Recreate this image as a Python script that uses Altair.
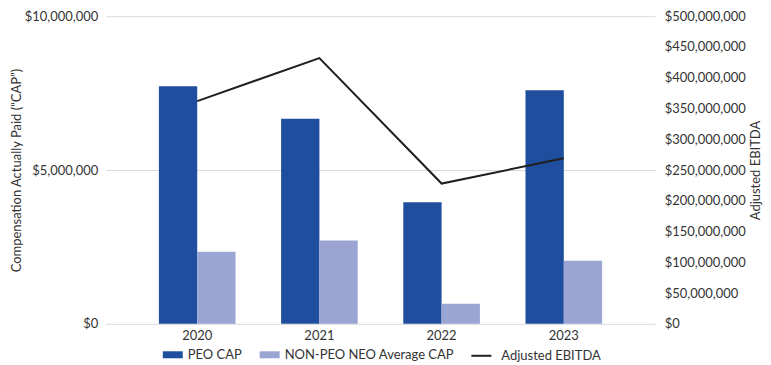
import altair as alt
import pandas as pd

years = ["2020", "2021", "2022", "2023"]
peo_cap = [7720000, 6670000, 3950000, 7590000]
non_peo_cap = [2340000, 2710000, 650000, 2050000]
adj_ebitda = [362000000, 432000000, 228000000, 269000000]
bar_series = ["PEO CAP", "NON-PEO NEO Average CAP"]
line_series = ["Adjusted EBITDA"]
left_ticks = [0, 5000000, 10000000]
right_ticks = [0, 50000000, 100000000, 150000000, 200000000, 250000000,
               300000000, 350000000, 400000000, 450000000, 500000000]

FONT = "Lato"
TXT = "#333333"

bar_rows = []
for i, y in enumerate(years):
    bar_rows.append({"year": y, "series": bar_series[0], "value": peo_cap[i]})
    bar_rows.append({"year": y, "series": bar_series[1], "value": non_peo_cap[i]})
bars_df = pd.DataFrame(bar_rows)
line_df = pd.DataFrame({"year": years, "series": line_series * len(years), "value": adj_ebitda})

x_enc = alt.X(
    "year:N", sort=years, title=None,
    scale=alt.Scale(paddingInner=0.373, paddingOuter=0.434),
    axis=alt.Axis(labelAngle=0, domain=False, ticks=False, labelPadding=6,
                  labelFontSize=13, labelFont=FONT, labelColor=TXT),
)

bars = alt.Chart(bars_df).mark_bar().encode(
    x=x_enc,
    xOffset=alt.XOffset("series:N", sort=bar_series,
                        scale=alt.Scale(domain=bar_series, paddingInner=0, paddingOuter=0)),
    y=alt.Y("value:Q", scale=alt.Scale(domain=[0, 10000000], nice=False),
            axis=alt.Axis(values=left_ticks, format="$,.0f",
                          title="Compensation Actually Paid (\u201cCAP\u201d)",
                          grid=True, gridColor="#D9D9D9", domain=False, ticks=False,
                          labelPadding=8, titlePadding=1, labelFontSize=13, labelFont=FONT,
                          labelColor=TXT, titleFontSize=13, titleFont=FONT,
                          titleFontWeight="normal", titleColor=TXT)),
    color=alt.Color("series:N",
                    scale=alt.Scale(domain=bar_series, range=["#1F4E9E", "#9BA5D3"]),
                    legend=alt.Legend(title=None, orient="none", legendX=57, legendY=329,
                                      direction="horizontal",
                                      symbolType="M-1,-0.35H1V0.35H-1Z", symbolSize=400,
                                      symbolStrokeWidth=0, labelFontSize=13, labelFont=FONT,
                                      labelColor=TXT, columnPadding=17, labelOffset=5,
                                      labelLimit=300, padding=0)),
)

line = alt.Chart(line_df).mark_line(strokeWidth=2).encode(
    x=x_enc,
    y=alt.Y("value:Q", scale=alt.Scale(domain=[0, 500000000], nice=False),
            axis=alt.Axis(orient="right", values=right_ticks, format="$,.0f",
                          title="Adjusted EBITDA", titleAngle=270, titleBaseline="top",
                          grid=False, domain=False, ticks=False,
                          labelPadding=9, titlePadding=4, labelFontSize=13, labelFont=FONT,
                          labelColor=TXT, titleFontSize=13, titleFont=FONT,
                          titleFontWeight="normal", titleColor=TXT)),
    stroke=alt.Stroke("series:N",
                      scale=alt.Scale(domain=line_series, range=["#231F20"]),
                      legend=alt.Legend(title=None, orient="none", legendX=365, legendY=329,
                                        direction="horizontal",
                                        symbolType="M-1,0H1", symbolSize=400,
                                        symbolStrokeWidth=2, labelFontSize=13, labelFont=FONT,
                                        labelColor=TXT, labelOffset=9, labelLimit=300,
                                        padding=0)),
)

chart = alt.layer(bars, line).resolve_scale(y="independent").properties(
    width=550, height=308, padding={"left": 2, "right": 0, "top": 2, "bottom": 0},
).configure_view(stroke=None)

chart.save("out.html", embed_options={"renderer": "svg", "actions": False})
